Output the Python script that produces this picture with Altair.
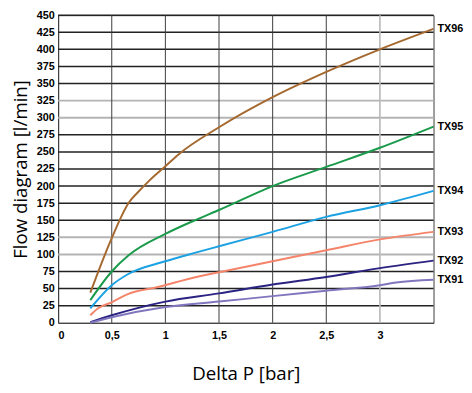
import altair as alt
import pandas as pd

series = ["TX96", "TX95", "TX94", "TX93", "TX92", "TX91"]
colors = ["#a5692f", "#1a9b4b", "#1ba1e2", "#f4846a", "#2b2381", "#8076bd"]

tx96_x = [0.3, 0.5, 0.66, 0.75, 0.85, 1.0, 1.12, 1.5, 2.0, 2.5, 3.0, 3.5]
tx96_y = [44, 124, 176, 192, 208, 229, 246, 286, 330, 367, 400, 430]
tx95_x = [0.3, 0.5, 0.66, 1.0, 1.29, 1.5, 2.0, 2.5, 3.0, 3.5]
tx95_y = [33, 75, 99, 130, 151, 165, 200, 228, 256, 287]
tx94_x = [0.3, 0.5, 0.65, 1.0, 1.29, 1.5, 2.0, 2.5, 3.0, 3.5]
tx94_y = [21, 55, 71, 90, 103, 112, 133, 155, 172, 193]
tx93_x = [0.3, 0.37, 0.5, 0.65, 0.92, 1.29, 1.5, 2.0, 2.5, 3.0, 3.5]
tx93_y = [11, 21, 30, 42, 52, 67, 74, 90, 106, 122, 133]
tx92_x = [0.3, 0.5, 1.0, 1.5, 2.0, 2.5, 3.0, 3.5]
tx92_y = [1, 11, 31, 43, 56, 67, 80, 91]
tx91_x = [0.3, 0.5, 1.0, 1.5, 2.0, 2.5, 3.0, 3.15, 3.5]
tx91_y = [0, 8, 23, 31, 39, 47, 55, 59, 63]

x_ticks = [0, 0.5, 1, 1.5, 2, 2.5, 3]
y_ticks = list(range(0, 451, 25))
light_y = [100, 125, 300, 325]
light_x = [3]

W, H = 382, 313

all_x = [tx96_x, tx95_x, tx94_x, tx93_x, tx92_x, tx91_x]
all_y = [tx96_y, tx95_y, tx94_y, tx93_y, tx92_y, tx91_y]

rows = []
for name, xs, ys in zip(series, all_x, all_y):
    for i, (a, b) in enumerate(zip(xs, ys)):
        rows.append({"series": name, "dp": a, "flow": b, "i": i})
df = pd.DataFrame(rows)
ends = pd.DataFrame([{"series": n, "dp": xs[-1], "flow": ys[-1]} for n, xs, ys in zip(series, all_x, all_y)])

h_dark = pd.DataFrame({"flow": [v for v in y_ticks[1:] if v not in light_y]})
h_light = pd.DataFrame({"flow": light_y})
v_dark = pd.DataFrame({"dp": [v for v in x_ticks[1:] if v not in light_x]})
v_light = pd.DataFrame({"dp": light_x})

x_scale = alt.Scale(domain=[0, 3.5], nice=False, zero=False)
y_scale = alt.Scale(domain=[0, 450], nice=False)

x_axis = alt.Axis(
    values=x_ticks,
    labelExpr="replace(format(datum.value, ''), '.', ',')",
    title="Delta P [bar]",
    labelPadding=7,
    titlePadding=25,
    grid=False,
    labelOverlap=False,
)
y_axis = alt.Axis(
    values=y_ticks,
    title="Flow diagram [l/min]",
    labelPadding=4,
    titlePadding=6,
    grid=False,
    labelOverlap=False,
)

X = lambda: alt.X("dp:Q", scale=x_scale, axis=x_axis)
Y = lambda: alt.Y("flow:Q", scale=y_scale, axis=y_axis)

hd = alt.Chart(h_dark).mark_rule(color="#222222", strokeWidth=1.5).encode(
    y=Y(), x=alt.value(0), x2=alt.value(W))
hl = alt.Chart(h_light).mark_rule(color="#b4b4b4", strokeWidth=2).encode(
    y=Y(), x=alt.value(0), x2=alt.value(W))
vd = alt.Chart(v_dark).mark_rule(color="#3c3c3c", strokeWidth=1).encode(
    x=X(), y=alt.value(0), y2=alt.value(H))
vl = alt.Chart(v_light).mark_rule(color="#bbbbbb", strokeWidth=1.7).encode(
    x=X(), y=alt.value(0), y2=alt.value(H))

lines = alt.Chart(df).mark_line(strokeWidth=2, interpolate="monotone").encode(
    x=X(), y=Y(),
    stroke=alt.Stroke("series:N", scale=alt.Scale(domain=series, range=colors), legend=None),
    order="i:Q",
)

labels = alt.Chart(ends).mark_text(
    align="left", baseline="middle", dx=4, fontWeight="bold", fontSize=11,
    font="Liberation Sans", color="black"
).encode(x=X(), y=Y(), text="series:N")

chart = alt.layer(hd, hl, vd, vl, lines, labels).properties(
    width=W, height=H,
    autosize=alt.AutoSizeParams(type="none"),
    padding={"left": 51, "top": 4, "right": 31, "bottom": 60},
).configure_axis(
    labelFont="Liberation Sans", labelFontWeight="bold", labelFontSize=11, labelColor="black",
    ticks=False, domainColor="#3c3c3c", domainWidth=1,
    titleFont="Open Sans", titleFontSize=19, titleFontWeight="normal", titleColor="black",
).configure_view(stroke="#3c3c3c", strokeWidth=1)

chart.save("out.html", embed_options={"renderer": "svg", "actions": False})
